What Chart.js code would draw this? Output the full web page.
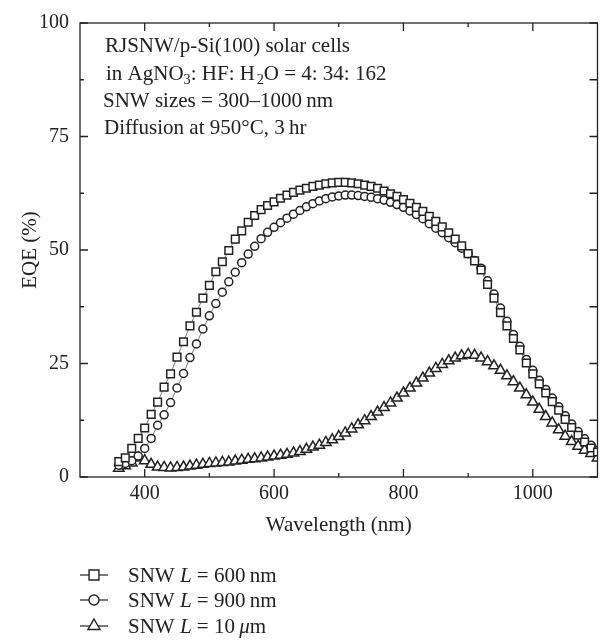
<!DOCTYPE html>
<html>
<head>
<meta charset="utf-8">
<script src="https://cdn.jsdelivr.net/npm/chart.js@4.4.1/dist/chart.umd.min.js"></script>
<style>
  html, body { margin: 0; padding: 0; background: #fff; }
  canvas { display: block; }
</style>
</head>
<body>
<canvas id="eqeChart" width="605" height="642"></canvas>
<script>
// wavelength (nm) of each measured point
let wavelengths = [360, 370, 380, 390, 400, 410, 420, 430, 440, 450,
  460, 470, 480, 490, 500, 510, 520, 530, 540, 550,
  560, 570, 580, 590, 600, 610, 620, 630, 640, 650,
  660, 670, 680, 690, 700, 710, 720, 730, 740, 750,
  760, 770, 780, 790, 800, 810, 820, 830, 840, 850,
  860, 870, 880, 890, 900, 910, 920, 930, 940, 950,
  960, 970, 980, 990, 1000, 1010, 1020, 1030, 1040, 1050,
  1060, 1070, 1080, 1090, 1100];

// EQE (%) for SNW L = 600 nm (squares)
let eqe600nm = [3.4, 4.2, 6.3, 8.5, 10.8, 13.8, 16.5, 19.8, 22.7, 26.4,
  29.8, 33.3, 36.3, 39.4, 42.2, 45.2, 47.4, 49.9, 52.4, 54.2,
  56.1, 57.6, 58.9, 59.8, 60.6, 61.4, 62.1, 62.7, 63.2, 63.6,
  64.0, 64.3, 64.6, 64.8, 64.9, 64.9, 64.8, 64.6, 64.3, 64.0,
  63.6, 63.0, 62.4, 61.8, 61.1, 60.3, 59.4, 58.5, 57.4, 56.3,
  55.1, 53.8, 52.4, 50.9, 49.2, 47.6, 45.6, 42.4, 39.4, 36.2,
  33.3, 30.5, 28.0, 25.1, 22.7, 20.5, 18.5, 16.6, 14.7, 12.7,
  10.9, 9.2, 7.7, 6.4, 5.5];

// EQE (%) for SNW L = 900 nm (circles)
let eqe900nm = [2.6, 3.0, 3.6, 4.6, 6.3, 8.5, 11.4, 13.7, 16.4, 19.6,
  22.8, 26.3, 29.3, 32.6, 35.5, 38.2, 40.7, 43.0, 45.1, 47.2,
  49.1, 50.8, 52.5, 53.9, 55.0, 56.0, 57.0, 57.9, 58.7, 59.5,
  60.2, 60.8, 61.3, 61.7, 61.9, 62.1, 62.1, 62.0, 61.8, 61.6,
  61.3, 61.0, 60.5, 60.0, 59.4, 58.6, 57.8, 56.9, 55.8, 54.8,
  53.8, 52.7, 51.6, 50.4, 49.2, 47.7, 46.0, 43.2, 40.3, 37.2,
  34.3, 31.4, 28.8, 25.9, 23.5, 21.3, 19.3, 17.4, 15.5, 13.5,
  11.7, 10.0, 8.4, 7.0, 5.9];

// EQE (%) for SNW L = 10 um (triangles)
let eqe10um = [1.9, 2.5, 3.1, 4.2, 3.6, 2.8, 2.2, 2.1, 2.0, 2.1,
  2.2, 2.4, 2.6, 2.8, 3.0, 3.1, 3.2, 3.3, 3.5, 3.7,
  3.9, 4.0, 4.2, 4.4, 4.6, 4.8, 5.0, 5.3, 5.6, 6.1,
  6.6, 7.0, 7.6, 8.2, 8.9, 9.7, 10.6, 11.5, 12.4, 13.3,
  14.3, 15.3, 16.3, 17.4, 18.5, 19.6, 20.7, 21.8, 22.9, 23.9,
  24.8, 25.6, 26.2, 26.7, 27.0, 26.8, 26.2, 25.4, 24.5, 23.5,
  22.3, 21.0, 19.6, 18.1, 16.5, 14.9, 13.3, 11.9, 10.4, 9.0,
  7.8, 6.8, 5.9, 5.2, 4.2];

let xTicks = [400, 600, 800, 1000];
let xMinorTicks = [500, 700, 900];
let yTicks = [0, 25, 50, 75, 100];
let yMinorTicks = [12.5, 37.5, 62.5, 87.5];

// legend labels, split where the italic parts are
let legendLabels = [
  [{t: 'SNW '}, {t: 'L', it: true}, {t: ' = 600\u2009nm'}],
  [{t: 'SNW '}, {t: 'L', it: true}, {t: ' = 900\u2009nm'}],
  [{t: 'SNW '}, {t: 'L', it: true}, {t: ' = 10\u2009'}, {t: '\u03BC', it: true}, {t: 'm'}]
];
let noteLines = [
  [{t: 'RJSNW/p-Si(100) solar cells'}],
  [{t: 'in AgNO'}, {t: '3', sub: true}, {t: ': HF: H\u200A'}, {t: '2', sub: true}, {t: 'O = 4: 34: 162'}],
  [{t: 'SNW sizes = 300\u20131000\u2009nm'}],
  [{t: 'Diffusion at 950\u00B0C, 3\u2009hr'}]
];

let ink = '#222';
let serif = '"Liberation Serif", "DejaVu Serif", serif';

function toPoints(ys) {
  return wavelengths.map((w, i) => ({x: w, y: ys[i]}));
}

function drawRich(ctx, parts, x, y, size) {
  parts.forEach(p => {
    let fs = p.sub ? size * 0.68 : size;
    ctx.font = (p.it ? 'italic ' : '') + fs + 'px ' + serif;
    ctx.fillText(p.t, x, p.sub ? y + size * 0.2 : y);
    x += ctx.measureText(p.t).width;
  });
}

// frame with inward ticks, the note and the legend under the axis
let decorPlugin = {
  id: 'decor',
  afterDraw(chart) {
    let ctx = chart.ctx;
    let a = chart.chartArea;
    let xs = chart.scales.x, ys = chart.scales.y;
    ctx.save();
    ctx.strokeStyle = ink;
    ctx.lineWidth = 1.3;
    ctx.strokeRect(a.left, a.top, a.right - a.left, a.bottom - a.top);
    ctx.beginPath();
    xTicks.concat(xMinorTicks).forEach(v => {
      let px = xs.getPixelForValue(v);
      let len = xTicks.includes(v) ? 8 : 4;
      ctx.moveTo(px, a.bottom); ctx.lineTo(px, a.bottom - len);
      ctx.moveTo(px, a.top); ctx.lineTo(px, a.top + len);
    });
    yTicks.concat(yMinorTicks).forEach(v => {
      let py = ys.getPixelForValue(v);
      let len = yTicks.includes(v) ? 8 : 4;
      ctx.moveTo(a.left, py); ctx.lineTo(a.left + len, py);
      ctx.moveTo(a.right, py); ctx.lineTo(a.right - 8, py);
    });
    ctx.stroke();

    ctx.fillStyle = ink;
    ctx.textBaseline = 'alphabetic';
    let noteX = [105, 106, 103, 104];
    let noteY = [52, 80, 107, 134];
    noteLines.forEach((line, i) => drawRich(ctx, line, noteX[i], noteY[i], 21));

    let rowY = [575, 600, 626];
    chart.data.datasets.forEach((ds, i) => {
      let y = rowY[i];
      ctx.strokeStyle = ink;
      ctx.lineWidth = 1.2;
      ctx.beginPath();
      ctx.moveTo(80, y); ctx.lineTo(108, y);
      ctx.stroke();
      ctx.fillStyle = '#fff';
      ctx.lineWidth = 1.4;
      Chart.helpers.drawPoint(ctx, {pointStyle: ds.pointStyle, radius: [7, 5, 7][i], rotation: 0, borderWidth: 1.4}, 94, y);
      ctx.fillStyle = ink;
      drawRich(ctx, legendLabels[i], 128, y + 7, 21);
    });
    ctx.restore();
  }
};

let seriesStyle = {
  showLine: true,
  borderColor: ink,
  borderWidth: 0.6,
  pointBackgroundColor: '#fff',
  pointBorderColor: ink,
  pointBorderWidth: 1.5,
  clip: 0
};

let eqeChart = new Chart(document.getElementById('eqeChart'), {
  type: 'scatter',
  data: {
    datasets: [
      Object.assign({label: 'SNW L = 600 nm', data: toPoints(eqe600nm), pointStyle: 'rect', pointRadius: 5.4}, seriesStyle),
      Object.assign({label: 'SNW L = 900 nm', data: toPoints(eqe900nm), pointStyle: 'circle', pointRadius: 4}, seriesStyle),
      Object.assign({label: 'SNW L = 10 um', data: toPoints(eqe10um), pointStyle: 'triangle', pointRadius: 6}, seriesStyle)
    ]
  },
  options: {
    responsive: false,
    animation: false,
    events: [],
    layout: {padding: {left: 0, right: 5, top: 13, bottom: 97}},
    plugins: {legend: {display: false}, tooltip: {enabled: false}},
    scales: {
      x: {
        type: 'linear',
        min: 300,
        max: 1100,
        afterBuildTicks: s => { s.ticks = xTicks.map(v => ({value: v})); },
        afterFit: s => { s.height = 68; },
        grid: {display: false, drawTicks: false},
        border: {display: false},
        ticks: {color: ink, padding: 5, maxRotation: 0, callback: v => String(v), font: {family: serif, size: 20}},
        title: {display: true, text: 'Wavelength (nm)', color: ink, padding: {top: 0, bottom: 7}, font: {family: serif, size: 21}}
      },
      y: {
        min: 0,
        max: 100,
        afterBuildTicks: s => { s.ticks = yTicks.map(v => ({value: v})); },
        afterFit: s => { s.width = 80; },
        grid: {display: false, drawTicks: false},
        border: {display: false},
        ticks: {color: ink, padding: 11, callback: v => String(v), font: {family: serif, size: 20}},
        title: {display: true, text: 'EQE (%)', color: ink, padding: {top: 18, bottom: 0}, font: {family: serif, size: 21}}
      }
    }
  },
  plugins: [decorPlugin]
});
</script>
</body>
</html>
